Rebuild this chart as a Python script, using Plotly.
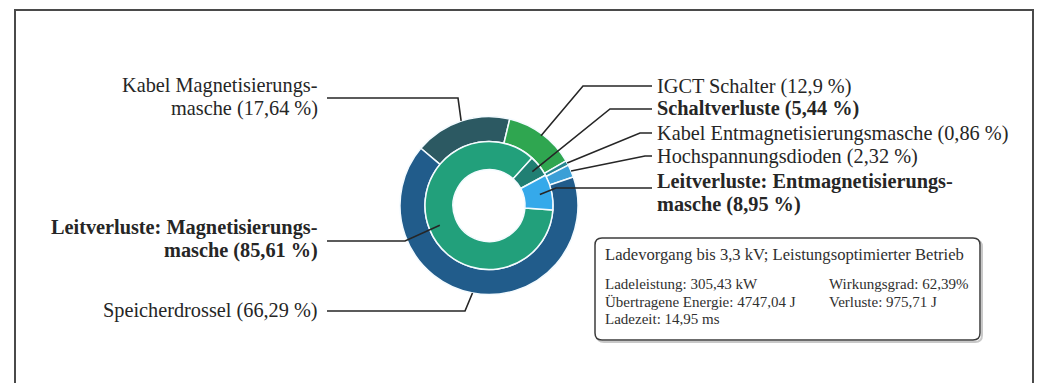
import math
import plotly.graph_objects as go

W, H = 1044, 383

# Outer ring: share of total losses per component (%)
outer_names = [
    "Kabel Magnetisierungs-|masche",
    "IGCT Schalter",
    "Kabel Entmagnetisierungsmasche",
    "Hochspannungsdioden",
    "Speicherdrossel",
]
outer_values = [17.64, 12.9, 0.86, 2.32, 66.29]
outer_colors = ["#2c5962", "#2fa650", "#25858f", "#3a9fd6", "#215c8b"]

# Inner ring: share of total losses per loss mechanism (%)
inner_names = [
    "Leitverluste: Magnetisierungs-|masche",
    "Schaltverluste",
    "Leitverluste: Entmagnetisierungs-|masche",
]
inner_values = [85.61, 5.44, 8.95]
inner_colors = ["#22a07b", "#207f73", "#35a9ea"]

# Operating point summary
info_title = "Ladevorgang bis 3,3 kV; Leistungsoptimierter Betrieb"
info_left = ["Ladeleistung: 305,43 kW", "Übertragene Energie: 4747,04 J", "Ladezeit: 14,95 ms"]
info_right = ["Wirkungsgrad: 62,39%", "Verluste: 975,71 J"]

# ---- geometry (pixels, y downwards) ----
CX, CY = 489, 205.5
R_OUT, R_MID, R_IN = 89, 64, 36
ROT_OUT, ROT_IN = -50, 94
FONT = "Liberation Serif"
INK = "#262626"
LABEL_SIZE = 20.3


def px(x):
    return x / W


def py(y):
    return 1 - y / H


def mid_angles(values, rotation):
    total = sum(values)
    a = rotation
    out = []
    for v in values:
        span = 360.0 * v / total
        out.append(a + span / 2)
        a += span
    return out


def ring_point(angle, r):
    t = math.radians(angle)
    return CX + r * math.sin(t), CY - r * math.cos(t)


def fmt(v):
    return f"{v:g}".replace(".", ",")


def label_lines(name, value):
    parts = name.split("|")
    parts[-1] = f"{parts[-1]} ({fmt(value)} %)"
    return parts


def domain(r):
    return dict(x=[px(CX - r), px(CX + r)], y=[py(CY + r), py(CY - r)])


fig = go.Figure()
fig.add_trace(go.Pie(
    labels=[n.replace("-|", "") for n in outer_names], values=outer_values,
    sort=False, direction="clockwise", rotation=ROT_OUT,
    hole=R_MID / R_OUT, domain=domain(R_OUT),
    marker=dict(colors=outer_colors, line=dict(color="#f4fbff", width=1.5)),
    textinfo="none", hoverinfo="skip", showlegend=False,
))
fig.add_trace(go.Pie(
    labels=[n.replace("-|", "") for n in inner_names], values=inner_values,
    sort=False, direction="clockwise", rotation=ROT_IN,
    hole=R_IN / R_MID, domain=domain(R_MID),
    marker=dict(colors=inner_colors, line=dict(color="#f4fbff", width=1.5)),
    textinfo="none", hoverinfo="skip", showlegend=False,
))

outer_mid = mid_angles(outer_values, ROT_OUT)
inner_mid = mid_angles(inner_values, ROT_IN)

# callouts: (ring, index, side, text line ys, leader y, knee x, end radius, bold)
callouts = [
    ("outer", 0, "left", [85, 108], 98, 458, R_OUT, False),
    ("inner", 0, "left", [227, 250], 241, 405, 53, True),
    ("outer", 4, "left", [310], 311, 465, R_OUT, False),
    ("outer", 1, "right", [86], 86, 583, R_OUT - 2, False),
    ("inner", 1, "right", [109], 109, 610, 55, True),
    ("outer", 2, "right", [133], 133, 640, R_OUT, False),
    ("outer", 3, "right", [156], 156, 645, R_OUT, False),
    ("inner", 2, "right", [181, 204], 188, 556, 52, True),
]

shapes = []
annotations = []

for ring, i, side, ys, ly, kx, rr, bold in callouts:
    if ring == "outer":
        name, val, ang = outer_names[i], outer_values[i], outer_mid[i]
    else:
        name, val, ang = inner_names[i], inner_values[i], inner_mid[i]
    ex, ey = ring_point(ang, rr)
    lx = 327 if side == "left" else 652
    path = f"M {px(lx)},{py(ly)} L {px(kx)},{py(ly)} L {px(ex)},{py(ey)}"
    shapes.append(dict(type="path", xref="paper", yref="paper", path=path,
                       line=dict(color=INK, width=1.6), layer="above"))
    for t, y in zip(label_lines(name, val), ys):
        annotations.append(dict(
            x=px(320 if side == "left" else 655), y=py(y), xref="paper", yref="paper",
            text=f"<b>{t}</b>" if bold else t, showarrow=False,
            xanchor="right" if side == "left" else "left", yanchor="middle",
            font=dict(family=FONT, size=LABEL_SIZE, color=INK),
        ))

# outer frame (open at the bottom)
fl, ft, fr = 15, 10, 1033
shapes.append(dict(type="path", xref="paper", yref="paper",
                   path=f"M {px(fl)},0 L {px(fl)},{py(ft)} L {px(fr)},{py(ft)} L {px(fr)},0",
                   line=dict(color="#4a4a4a", width=2)))


def rounded_rect(x0, y0, x1, y1, r):
    return (f"M {px(x0 + r)},{py(y0)} L {px(x1 - r)},{py(y0)} "
            f"Q {px(x1)},{py(y0)} {px(x1)},{py(y0 + r)} L {px(x1)},{py(y1 - r)} "
            f"Q {px(x1)},{py(y1)} {px(x1 - r)},{py(y1)} L {px(x0 + r)},{py(y1)} "
            f"Q {px(x0)},{py(y1)} {px(x0)},{py(y1 - r)} L {px(x0)},{py(y0 + r)} "
            f"Q {px(x0)},{py(y0)} {px(x0 + r)},{py(y0)} Z")


bx0, by0, bx1, by1 = 595, 238, 980, 340
shapes.append(dict(type="path", xref="paper", yref="paper",
                   path=rounded_rect(bx0 + 2, by0 + 2, bx1 + 2, by1 + 2, 7),
                   line=dict(color="#c8c8c8", width=2), layer="above"))
shapes.append(dict(type="path", xref="paper", yref="paper",
                   path=rounded_rect(bx0, by0, bx1, by1, 7),
                   fillcolor="white", line=dict(color="#3c3c3c", width=1.5), layer="above"))

BOX_FONT = dict(family=FONT, size=15, color="#303030")
annotations.append(dict(x=px(603), y=py(254), xref="paper", yref="paper", text=info_title,
                        showarrow=False, xanchor="left", yanchor="middle",
                        font=dict(family=FONT, size=16.6, color="#303030")))
for t, y in zip(info_left, [284, 301.5, 319]):
    annotations.append(dict(x=px(603), y=py(y), xref="paper", yref="paper", text=t,
                            showarrow=False, xanchor="left", yanchor="middle", font=BOX_FONT))
for t, y in zip(info_right, [284, 301.5]):
    annotations.append(dict(x=px(827), y=py(y), xref="paper", yref="paper", text=t,
                            showarrow=False, xanchor="left", yanchor="middle", font=BOX_FONT))

fig.update_layout(
    width=W, height=H,
    margin=dict(l=0, r=0, t=0, b=0),
    paper_bgcolor="white", plot_bgcolor="white",
    shapes=shapes, annotations=annotations,
    showlegend=False,
)

fig.write_html("out.html", config={"displayModeBar": False})
